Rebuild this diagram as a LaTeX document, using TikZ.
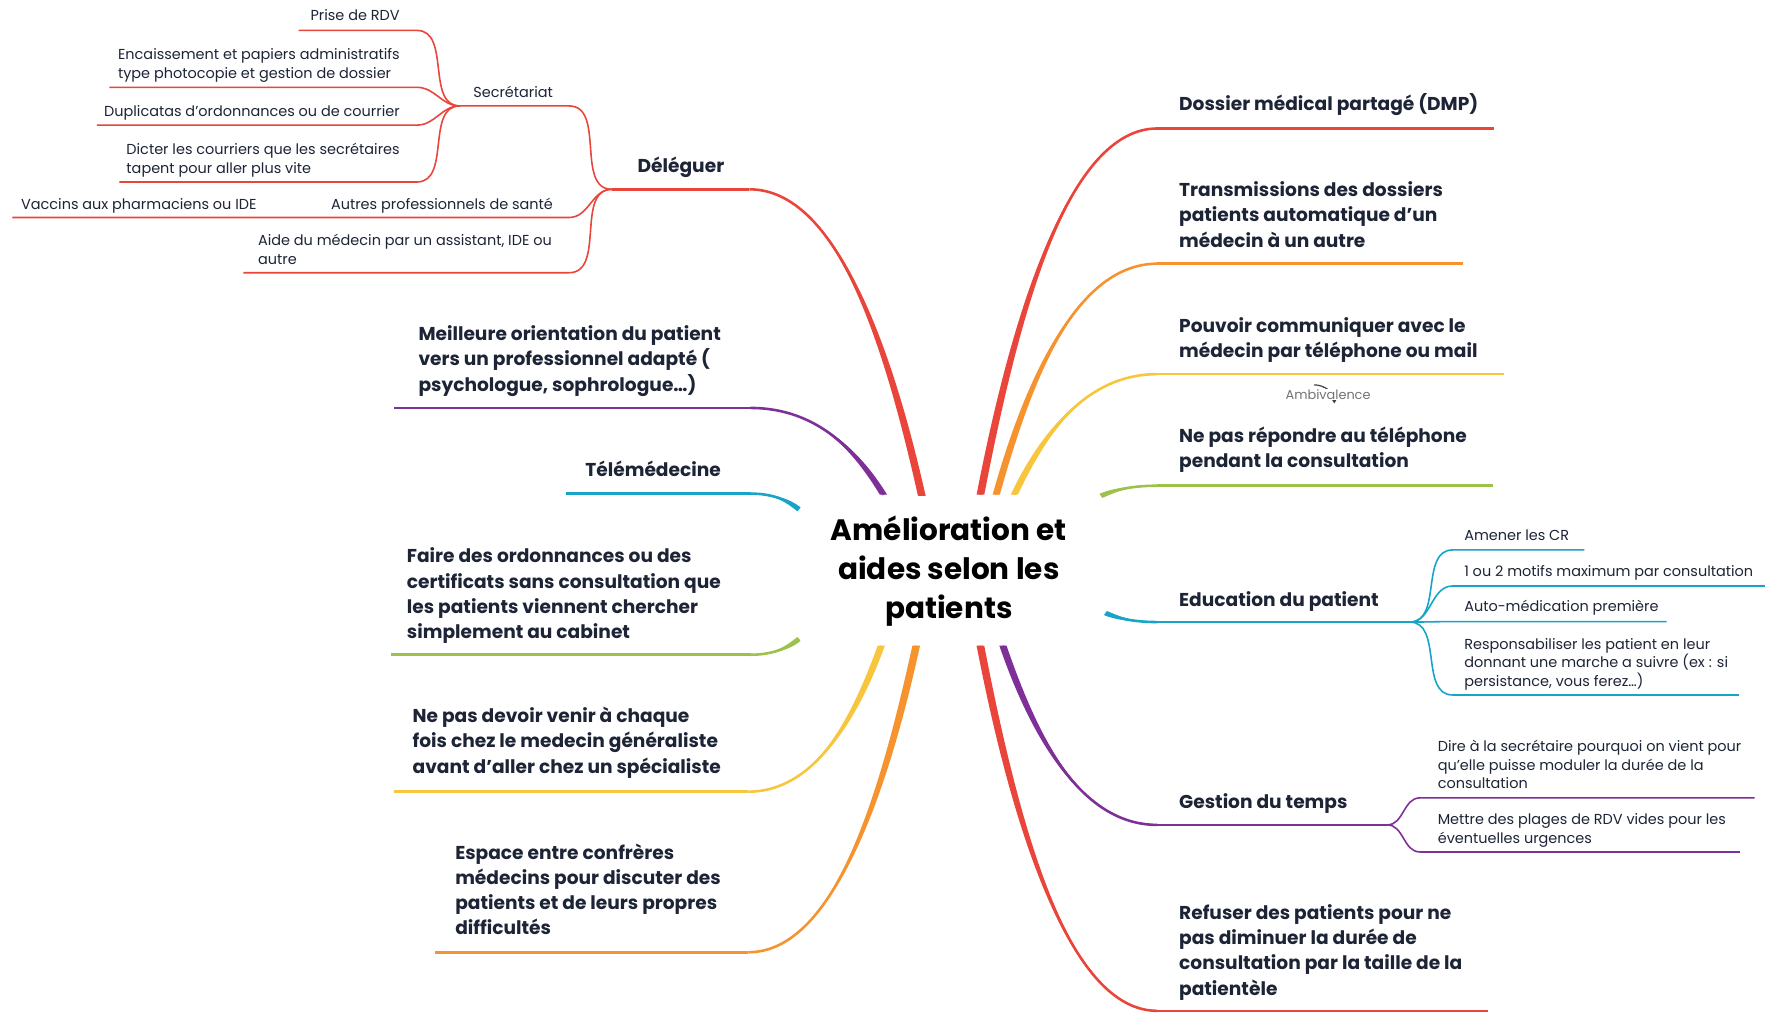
\documentclass[tikz,border=0pt]{standalone}
\usepackage{fontspec}
\setmainfont{Poppins}
\usetikzlibrary{calc,arrows.meta}
\definecolor{mmred}{HTML}{E9453A}
\definecolor{mmorange}{HTML}{F6932F}
\definecolor{mmyellow}{HTML}{F8C63D}
\definecolor{mmgreen}{HTML}{9CC24A}
\definecolor{mmcyan}{HTML}{18A4C9}
\definecolor{mmpurple}{HTML}{7F2F98}
\definecolor{ink}{HTML}{1C2436}
\tikzset{
    every node/.style={inner sep=0pt, text=ink},
    centre/.style={font=\bfseries\fontsize{14.9}{19.7}\selectfont, align=center,
    	text=black, anchor=base},
    topic/.style={font=\bfseries\fontsize{9.4}{12.7}\selectfont, align=left},
    leaf/.style={font=\fontsize{7.3}{9.5}\selectfont, align=left}
}
\tikzset{
    stem/.style={line width=1.3pt},
    twig/.style={line width=0.8pt}
}
% tapered main branch: colour, start, bend, half width x, half width y
\newcommand{\limb}[5]{%
  \fill[#1] ($(#2)+(-#4,-#5)$)
    .. controls ($(#2)!.5!($(#2|-#3)!.4!(#3)$)+(-#4,-#5)$) and ($(#3)!.5!(#2|-#3)$) .. (#3)
    .. controls ($(#3)!.5!(#2|-#3)$) and ($(#2)!.5!($(#2|-#3)!.4!(#3)$)+(#4,#5)$) .. ($(#2)+(#4,#5)$)
    -- cycle;
  \draw[#1, stem] (#2) .. controls ($(#2)!.5!($(#2|-#3)!.4!(#3)$)$)
    and ($(#3)!.5!(#2|-#3)$) .. (#3);
}

\begin{document}
\begin{tikzpicture}[x=0.02cm, y=0.02cm]
	\fill[white] (0,0) rectangle (1568,-899);
	\useasboundingbox (0,0) rectangle (1568,-899);

	\node[centre] (c) at (842,-549) {Amélioration et\\aides selon les\\patients};

	\coordinate (dels) at (818,-440); \coordinate (delb) at (665,-168); \coordinate (delh) at (543,-168);
	\coordinate (meis) at (784,-439); \coordinate (meib) at (666,-362); \coordinate (meie) at (350,-362);
	\coordinate (tels) at (709,-452); \coordinate (telb) at (666,-438); \coordinate (tele) at (502,-438);
	\coordinate (fais) at (709,-567); \coordinate (faib) at (666,-581); \coordinate (faie) at (347,-581);
	\coordinate (devs) at (782,-573); \coordinate (devb) at (664,-702.5); \coordinate (deve) at (350,-702.5);
	\coordinate (esps) at (813,-573); \coordinate (espb) at (664,-845); \coordinate (espe) at (386,-845);
	\coordinate (dmps) at (870,-439); \coordinate (dmpb) at (1027,-114); \coordinate (dmpe) at (1326,-114);
	\coordinate (tras) at (884,-439); \coordinate (trab) at (1027,-234); \coordinate (trae) at (1298,-234);
	\coordinate (pous) at (900,-439); \coordinate (poub) at (1027,-332); \coordinate (poue) at (1335,-332);
	\coordinate (reps) at (977,-440); \coordinate (repb) at (1027,-431); \coordinate (repe) at (1325,-431);
	\coordinate (edus) at (981,-544); \coordinate (edub) at (1027,-552); \coordinate (eduh) at (1251,-552);
	\coordinate (gess) at (890,-573); \coordinate (gesb) at (1027,-732); \coordinate (gesh) at (1231,-732);
	\coordinate (refs) at (870,-573); \coordinate (refb) at (1027,-897); \coordinate (refe) at (1320,-897);

	\limb{mmred}{dels}{delb}{3.4}{0}
	\limb{mmpurple}{meis}{meib}{3.2}{0}
	\limb{mmcyan}{tels}{telb}{1.4}{1.8}
	\limb{mmgreen}{fais}{faib}{1.4}{-1.8}
	\limb{mmyellow}{devs}{devb}{3.2}{0}
	\limb{mmorange}{esps}{espb}{3.4}{0}
	\limb{mmred}{dmps}{dmpb}{3.4}{0}
	\limb{mmorange}{tras}{trab}{3.2}{0}
	\limb{mmyellow}{pous}{poub}{3.2}{0}
	\limb{mmgreen}{reps}{repb}{1.4}{-1.8}
	\limb{mmcyan}{edus}{edub}{1.4}{1.8}
	\limb{mmpurple}{gess}{gesb}{3.2}{0}
	\limb{mmred}{refs}{refb}{3.4}{0}

	\draw[mmred, stem] (delb) -- (delh);
	\draw[mmpurple, stem] (meib) -- (meie);
	\draw[mmcyan, stem] (telb) -- (tele);
	\draw[mmgreen, stem] (faib) -- (faie);
	\draw[mmyellow, stem] (devb) -- (deve);
	\draw[mmorange, stem] (espb) -- (espe);
	\draw[mmred, stem] (dmpb) -- (dmpe);
	\draw[mmorange, stem] (trab) -- (trae);
	\draw[mmyellow, stem] (poub) -- (poue);
	\draw[mmgreen, stem] (repb) -- (repe);
	\draw[mmcyan, stem] (edub) -- (eduh);
	\draw[mmpurple, stem] (gesb) -- (gesh);
	\draw[mmred, stem] (refb) -- (refe);

	\coordinate (sech) at (408,-94); \coordinate (sece) at (505,-94);
	\coordinate (auth) at (288,-193); \coordinate (aute) at (505,-193);
	\coordinate (vacs) at (11,-193);
	\coordinate (aids) at (216,-242); \coordinate (aide) at (505,-242);
	\coordinate (pris) at (265,-27); \coordinate (prie) at (370,-27);
	\coordinate (encs) at (97,-77.5); \coordinate (ence) at (370,-77.5);
	\coordinate (dups) at (86,-111); \coordinate (dupe) at (370,-111);
	\coordinate (dics) at (106,-161.5); \coordinate (dice) at (370,-161.5);

	\draw[mmred, twig] (sech) -- (sece) to[out=0, in=180] (delh);
	\draw[mmred, twig] (vacs) -- (auth) -- (aute) to[out=0, in=180] (delh);
	\draw[mmred, twig] (aids) -- (aide) to[out=0, in=180] (delh);
	\draw[mmred, twig] (pris) -- (prie) to[out=0, in=180] (sech);
	\draw[mmred, twig] (encs) -- (ence) to[out=0, in=180] (sech);
	\draw[mmred, twig] (dups) -- (dupe) to[out=0, in=180] (sech);
	\draw[mmred, twig] (dics) -- (dice) to[out=0, in=180] (sech);

	\coordinate (ames) at (1289,-488); \coordinate (amee) at (1406,-488);
	\coordinate (mots) at (1289,-520); \coordinate (mote) at (1566,-520);
	\coordinate (auts) at (1289,-551.6); \coordinate (aute2) at (1479,-551.6);
	\coordinate (ress) at (1289,-616.7); \coordinate (rese) at (1543,-616.7);
	\coordinate (dirs) at (1260,-708); \coordinate (dire) at (1557,-708);
	\coordinate (plas) at (1260,-756); \coordinate (plae) at (1544,-756);

	\draw[mmcyan, twig] (eduh) to[out=0, in=180] (ames) -- (amee);
	\draw[mmcyan, twig] (eduh) to[out=0, in=180] (mots) -- (mote);
	\draw[mmcyan, twig] (eduh) to[out=0, in=180] (auts) -- (aute2);
	\draw[mmcyan, twig] (eduh) to[out=0, in=180] (ress) -- (rese);
	\draw[mmpurple, twig] (gesh) to[out=0, in=180] (dirs) -- (dire);
	\draw[mmpurple, twig] (gesh) to[out=0, in=180] (plas) -- (plae);

	\node[topic, anchor=base east] (deleguer) at (643,-153) {Déléguer};
	\node[topic, anchor=base east] (meilleure) at (640,-347) {Meilleure orientation du patient\\vers un professionnel adapté (\\psychologue, sophrologue…)};
	\node[topic, anchor=base east] (telemed) at (640,-423) {Télémédecine};
	\node[topic, anchor=base east] (faire) at (640,-566.4) {Faire des ordonnances ou des\\certificats sans consultation que\\les patients viennent chercher\\simplement au cabinet};
	\node[topic, anchor=base east] (devoir) at (640,-686) {Ne pas devoir venir à chaque\\fois chez le medecin généraliste\\avant d'aller chez un spécialiste};
	\node[topic, anchor=base east] (espace) at (640,-829.6) {Espace entre confrères\\médecins pour discuter des\\patients et de leurs propres\\difficultés};

	\node[topic, anchor=base west] (dmp) at (1046,-98) {Dossier médical partagé (DMP)};
	\node[topic, anchor=base west] (transm) at (1046,-219.2) {Transmissions des dossiers\\patients automatique d'un\\médecin à un autre};
	\node[topic, anchor=base west] (pouvoir) at (1046,-317.2) {Pouvoir communiquer avec le\\médecin par téléphone ou mail};
	\node[topic, anchor=base west] (repondre) at (1046,-415.2) {Ne pas répondre au téléphone\\pendant la consultation};
	\node[topic, anchor=base west] (educ) at (1046,-538) {Education du patient};
	\node[topic, anchor=base west] (gestion) at (1046,-717) {Gestion du temps};
	\node[topic, anchor=base west] (refuser) at (1046,-883) {Refuser des patients pour ne\\pas diminuer la durée de\\consultation par la taille de la\\patientèle};

	\node[leaf, anchor=base east] (secret) at (491,-86.5) {Secrétariat};
	\node[leaf, anchor=base east] (prise) at (355,-18.5) {Prise de RDV};
	\node[leaf, anchor=base east] (encaiss) at (355,-69.3) {Encaissement et papiers administratifs\\type photocopie et gestion de dossier};
	\node[leaf, anchor=base east] (duplic) at (355,-103) {Duplicatas d'ordonnances ou de courrier};
	\node[leaf, anchor=base east] (dicter) at (355,-153.8) {Dicter les courriers que les secrétaires\\tapent pour aller plus vite};
	\node[leaf, anchor=base east] (autres) at (491,-185.5) {Autres professionnels de santé};
	\node[leaf, anchor=base east] (vaccins) at (228,-185.5) {Vaccins aux pharmaciens ou IDE};
	\node[leaf, anchor=base east] (aidemed) at (490,-234.3) {Aide du médecin par un assistant, IDE ou\\autre};

	\node[leaf, anchor=base west] (amener) at (1299,-480) {Amener les CR};
	\node[leaf, anchor=base west] (motifs) at (1299,-511.5) {1 ou 2 motifs maximum par consultation};
	\node[leaf, anchor=base west] (automed) at (1299,-543) {Auto-médication première};
	\node[leaf, anchor=base west] (respons) at (1299,-609.4) {Responsabiliser les patient en leur\\donnant une marche a suivre (ex : si\\persistance, vous ferez…)};
	\node[leaf, anchor=base west] (direa) at (1275.5,-700) {Dire à la secrétaire pourquoi on vient pour\\qu'elle puisse moduler la durée de la\\consultation};
	\node[leaf, anchor=base west] (plages) at (1275.5,-748.3) {Mettre des plages de RDV vides pour les\\éventuelles urgences};

	\coordinate (rel1) at (1166,-341.5); \coordinate (rel2) at (1184,-358);
	\draw[black!75, line width=0.6pt, -{Stealth[length=2.5pt, width=3pt]}] (rel1) to[out=0, in=90] (rel2);
	\node[fill=white, text=black!55, font=\fontsize{6.5}{7}\selectfont, inner sep=0.3pt] (ambiv) at (1178.5,-350) {Ambivalence};
\end{tikzpicture}
\end{document}
